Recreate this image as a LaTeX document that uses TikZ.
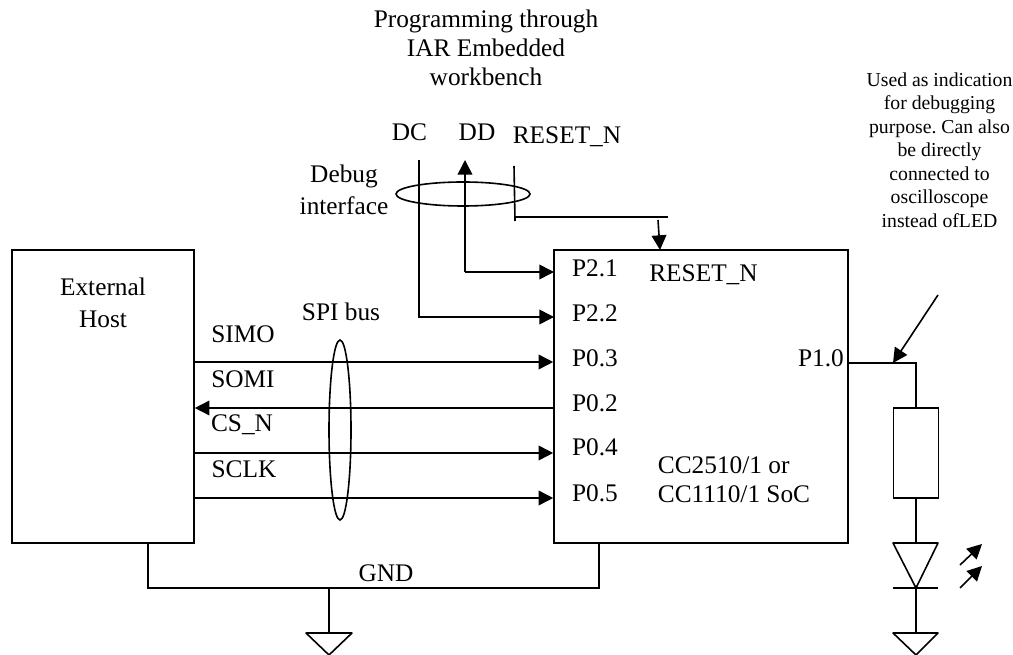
\documentclass[tikz,border=0pt]{standalone}
\usepackage{amsmath,amssymb}
\usepackage{fontspec}
\setmainfont{Liberation Serif}
\usepackage{tikz}
\usetikzlibrary{arrows.meta}
\frenchspacing
\tikzset{
  wire/.style={draw,line width=1.2pt},
  tip/.style={wire,-{Triangle[length=11pt,width=11pt]}},
  txt/.style={font=\fontsize{19}{22}\selectfont,inner sep=0pt,align=center},
  note/.style={font=\fontsize{14.8}{17.6}\selectfont,inner sep=0pt,align=center},
  box/.style={draw,line width=1.2pt,minimum width=#1,inner sep=0pt}
}
\begin{document}
\begin{tikzpicture}[x=.75pt,y=-.75pt]
    \useasboundingbox (0,0) rectangle (1013,655);
    \node[box=136.5pt,minimum height=219.75pt] (host) at (103,396.5) {};
    \node[box=220.5pt,minimum height=219.75pt] (soc) at (701,396.5) {};
    \node[box=33.75pt,minimum height=67.5pt] (res) at (916,453) {};
    \node[txt] (lhost) at (103,303) {External\\[2pt]Host};
    \node[txt] (lprog) at (486,48) {Programming through\\IAR Embedded\\workbench};
    \node[txt] (ldc) at (409.5,132) {DC};
    \node[txt] (ldd) at (477,132) {DD};
    \node[txt] (lrst) at (567,137) {RESET\_N};
    \node[txt] (ldbg) at (344,190) {Debug\\[2pt]interface};
    \node[txt] (lspi) at (341,312) {SPI bus};
    \node[txt] (lsimo) at (243,334) {SIMO};
    \node[txt] (lsomi) at (243,379) {SOMI};
    \node[txt] (lcs) at (242,425) {CS\_N};
    \node[txt] (lsclk) at (244,469) {SCLK};
    \node[txt] (lgnd) at (386,573) {GND};
    \node[txt] (lp21) at (595,268) {P2.1};
    \node[txt] (lp22) at (595,313) {P2.2};
    \node[txt] (lp03) at (595,358) {P0.3};
    \node[txt] (lp02) at (595,403) {P0.2};
    \node[txt] (lp04) at (595,447) {P0.4};
    \node[txt] (lp05) at (595,493) {P0.5};
    \node[txt] (lp10) at (821,358) {P1.0};
    \node[txt] (lreset) at (703.5,275) {RESET\_N};
    \node[txt,align=left] (lsoc) at (734,480) {CC2510/1 or\\CC1110/1 SoC};
    \node[note] (lnote) at (939.5,150) {Used as indication\\for debugging\\purpose. Can also\\be directly\\connected to\\oscilloscope\\instead ofLED};
    % debug lines
    \coordinate (dctop) at (419,160);
    \coordinate (ddtop) at (465,160);
    \coordinate (rsttop) at (514,166);
    \coordinate (rstbot) at (515,221);
    \coordinate (rstend) at (668,217);
    \coordinate (rsttip) at (658,220);
    \coordinate (socpin) at (660,250);
    \coordinate (p21) at (554,272);
    \coordinate (p22) at (554,317);
    \draw[tip] (dctop) |- (p22);
    \draw[tip] (ddtop |- p21) -- (p21);
    \draw[tip] (ddtop |- p21) -- (ddtop);
    \draw[wire] (rsttop) -- (rstbot);
    \draw[wire] (rstbot |- rstend) -- (rstend);
    \draw[tip] (rsttip) -- (socpin);
    \draw[wire] (463,194) ellipse (67 and 12);
    % spi lines
    \foreach \y in {362,453,498}
    \draw[tip] (host.east |- 0,\y) -- (soc.west |- 0,\y);
    \draw[tip] (soc.west |- 0,408) -- (host.east |- 0,408);
    \draw[wire] (340,430) ellipse (11 and 90);
    % ground
    \coordinate (gl) at (148,588);
    \coordinate (gr) at (599,588);
    \coordinate (gm) at (329,588);
    \coordinate (gb) at (329,633);
    \draw[wire] (host.south -| gl) -- (gl) -- (gr) -- (soc.south -| gr);
    \draw[wire] (gm) -- (gb);
    \draw[wire,line join=round] (306,633) -- (352,633) -- (329,655) -- cycle;
    % led side
    \coordinate (p10) at (848,363);
    \coordinate (bend) at (916,363);
    \coordinate (probe) at (938,295);
    \coordinate (ledtop) at (916,543);
    \coordinate (ledbot) at (916,588);
    \coordinate (gled) at (916,633);
    \draw[wire] (soc.east |- p10) -- (bend) -- (res.north);
    \draw[tip] (probe) -- (893,363);
    \draw[wire] (res.south) -- (ledtop);
    \draw[wire,line join=round] (893,543) -- (938,543) -- (ledbot) -- cycle;
    \draw[wire] (893,588) -- (938,588);
    \draw[wire] (ledbot) -- (gled);
    \draw[wire,line join=round] (893,633) -- (938,633) -- (916,655) -- cycle;
    \draw[tip] (960,565) -- (982,544);
    \draw[tip] (960,588) -- (982,566);
\end{tikzpicture}
\end{document}
